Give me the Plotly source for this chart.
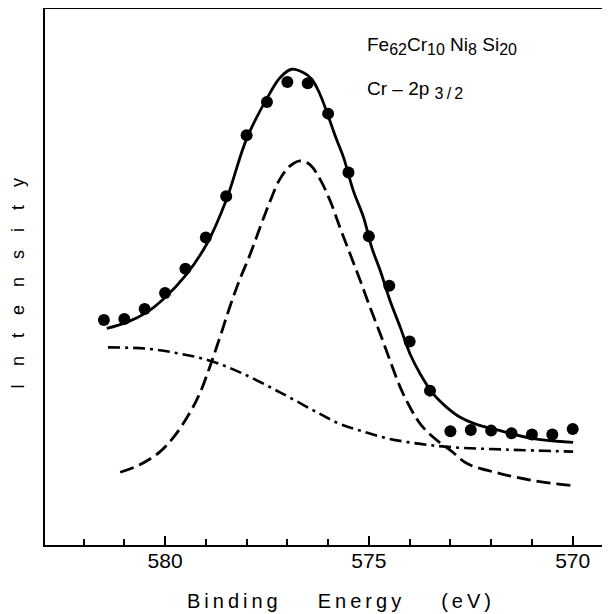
import plotly.graph_objects as go

# Measured data points (binding energy in eV, intensity in arbitrary units)
pt_energy = [581.5, 581.0, 580.5, 580.0, 579.5, 579.0, 578.5, 578.0, 577.5, 577.0,
             576.5, 576.0, 575.5, 575.0, 574.5, 574.0, 573.5, 573.0, 572.5, 572.0,
             571.5, 571.0, 570.5, 570.0]
pt_intensity = [41.98, 42.16, 44.03, 47.01, 51.56, 57.39, 65.07, 76.46, 82.67, 86.39,
                86.15, 80.48, 69.49, 57.58, 48.37, 37.95, 28.80, 21.21, 21.47, 21.34,
                20.84, 20.60, 20.60, 21.66]

# Fitted total curve (solid)
fit_energy = [581.43, 580.94, 580.45, 580.04, 579.48, 578.97, 578.50, 577.99, 577.42, 577.18,
              576.89, 576.61, 576.40, 576.20, 575.79, 575.62, 575.38, 575.13, 574.93, 574.72,
              574.48, 574.23, 573.99, 573.74, 573.42, 573.09, 572.76, 572.40, 571.78, 570.97,
              569.99]
fit_intensity = [40.41, 41.53, 43.39, 45.89, 50.44, 56.25, 64.32, 75.96, 84.40, 87.19,
                 88.76, 88.13, 86.90, 84.10, 75.59, 72.28, 66.07, 61.10, 55.51, 51.16,
                 45.57, 40.60, 35.64, 31.91, 28.18, 25.68, 23.82, 22.60, 21.34, 19.85,
                 19.16]

# Cr 2p3/2 peak component (dashed)
peak_energy = [581.10, 580.61, 580.12, 579.76, 579.39, 579.14, 578.90, 578.65, 578.41, 578.18,
               577.91, 577.67, 577.42, 577.18, 576.93, 576.69, 576.44, 576.20, 575.95, 575.71,
               575.46, 575.21, 574.97, 574.72, 574.48, 574.23, 573.99, 573.74, 573.42, 572.99,
               572.59, 571.78, 570.97, 570.04]
peak_intensity = [13.57, 15.00, 17.43, 20.41, 24.70, 28.42, 33.27, 38.86, 44.45, 49.30,
                  54.28, 59.24, 64.21, 68.31, 70.74, 71.67, 70.92, 68.26, 64.21, 59.24,
                  54.28, 49.30, 44.32, 39.37, 34.39, 29.41, 25.68, 22.59, 20.09, 17.61,
                  15.19, 13.33, 12.02, 11.09]

# Background (dash-dot)
bg_energy = [581.40, 580.45, 579.63, 578.90, 578.16, 577.18, 576.20, 575.71, 575.21, 574.56,
             573.74, 572.93, 571.63, 569.99]
bg_intensity = [36.87, 36.63, 35.69, 34.39, 32.21, 28.48, 24.45, 22.59, 21.34, 19.91,
                18.86, 18.23, 17.80, 17.43]

x_ticks = [580, 575, 570]

FONT = "Liberation Sans, Arial, sans-serif"

fig = go.Figure()
fig.add_trace(go.Scatter(x=bg_energy, y=bg_intensity, mode="lines",
                         line=dict(color="black", width=2.6, dash="12px,5px,3px,5px", shape="spline"),
                         hoverinfo="skip"))
fig.add_trace(go.Scatter(x=peak_energy, y=peak_intensity, mode="lines",
                         line=dict(color="black", width=2.8, dash="14px,6px", shape="spline"),
                         hoverinfo="skip"))
fig.add_trace(go.Scatter(x=fit_energy, y=fit_intensity, mode="lines",
                         line=dict(color="black", width=2.8, shape="spline"),
                         hoverinfo="skip"))
fig.add_trace(go.Scatter(x=pt_energy, y=pt_intensity, mode="markers",
                         marker=dict(color="black", size=12),
                         hoverinfo="skip"))

fig.update_layout(
    width=602, height=606,
    margin=dict(l=37, r=0, t=1, b=69),
    paper_bgcolor="white", plot_bgcolor="white",
    showlegend=False,
    font=dict(family=FONT, color="black"),
    xaxis=dict(
        range=[582.945, 569.085],
        tickmode="array", tickvals=x_ticks, ticktext=[str(v) for v in x_ticks],
        ticks="inside", ticklen=9, tickwidth=1.5, tickcolor="black",
        minor=dict(dtick=1, tick0=570, ticks="inside", ticklen=6, tickwidth=1.5, tickcolor="black"),
        showline=True, linecolor="black", linewidth=2, mirror=True,
        showgrid=False, zeroline=False,
        ticklabelstandoff=-4,
        tickfont=dict(family=FONT, size=21, color="black"),
    ),
    yaxis=dict(
        range=[0, 100],
        showticklabels=False, ticks="",
        showline=True, linecolor="black", linewidth=2, mirror=False,
        showgrid=False, zeroline=False,
    ),
    annotations=[
        dict(text="B\u2009i\u2009n\u2009d\u2009i\u2009n\u2009g\u2003\u2003E\u2009n\u2009e\u2009r\u2009g\u2009y\u2003\u2003(\u2009e\u2009V\u2009)",
             xref="paper", yref="paper", x=0.521, y=-0.104,
             xanchor="center", yanchor="middle", showarrow=False,
             font=dict(family=FONT, size=20, color="black")),
        dict(text="I\u2003n\u2003t\u2003e\u2003n\u2003s\u2003i\u2003t\u2003y",
             xref="paper", yref="paper", x=-0.0478, y=0.4888, textangle=-90,
             xanchor="center", yanchor="middle", showarrow=False,
             font=dict(family=FONT, size=18, color="black")),
        dict(text="Fe<sub><span style='font-size:16px'>62</span></sub>Cr<sub><span style='font-size:16px'>10</span></sub> Ni<sub><span style='font-size:16px'>8</span></sub> Si<sub><span style='font-size:16px'>20</span></sub>",
             xref="paper", yref="paper", x=0.5664, y=0.931,
             xanchor="left", yanchor="middle", showarrow=False,
             font=dict(family=FONT, size=19, color="black")),
        dict(text="Cr \u2013 2p <sub><span style='font-size:16px'>3\u2009/\u20092</span></sub>",
             xref="paper", yref="paper", x=0.5664, y=0.849,
             xanchor="left", yanchor="middle", showarrow=False,
             font=dict(family=FONT, size=19, color="black")),
    ],
)

fig.write_html("out.html")
